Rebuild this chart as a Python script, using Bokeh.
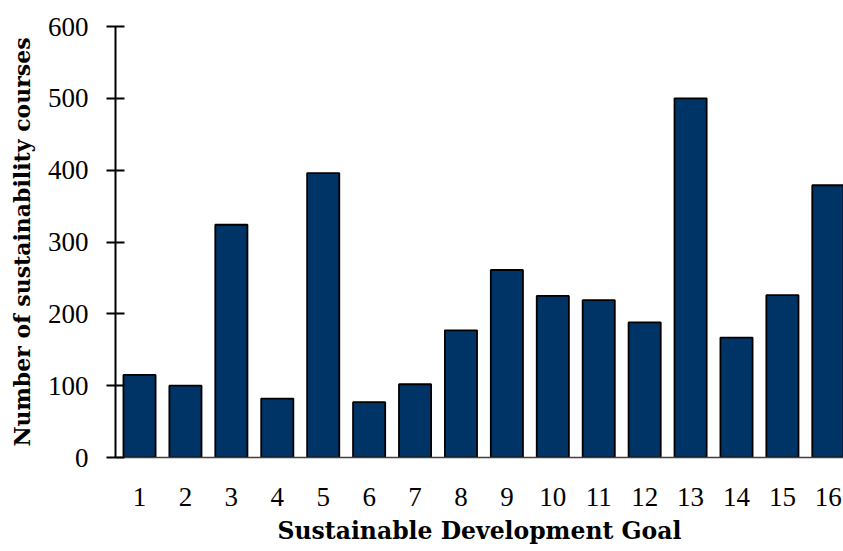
from bokeh.plotting import figure
from bokeh.models import Range1d, FixedTicker
from bokeh.embed import file_html
from bokeh.resources import INLINE

goals = [1, 2, 3, 4, 5, 6, 7, 8, 9, 10, 11, 12, 13, 14, 15, 16]
courses = [115, 100, 324, 82, 396, 77, 102, 177, 261, 225, 219, 188, 500, 167, 226, 379]
y_ticks = [0, 100, 200, 300, 400, 500, 600]

TICK_FONT = "Liberation Serif"
LABEL_FONT = "DejaVu Serif"

p = figure(width=843, height=551, output_backend="svg", toolbar_location=None,
           x_range=Range1d(0.477, 16.33), y_range=Range1d(0, 600),
           min_border_left=115, min_border_right=0, min_border_top=26, min_border_bottom=94)
p.outline_line_color = None
p.grid.grid_line_color = None
p.background_fill_color = "white"

p.vbar(x=goals, top=courses, width=0.7, fill_color="#003366",
       line_color="black", line_width=1.8)

# y axis
p.yaxis.ticker = FixedTicker(ticks=y_ticks)
p.yaxis.major_tick_in = 9
p.yaxis.major_tick_out = 9
p.yaxis.minor_tick_line_color = None
p.yaxis.axis_line_width = 2
p.yaxis.major_tick_line_width = 2
p.yaxis.axis_line_color = "black"
p.yaxis.major_label_standoff = 18
p.yaxis.major_label_text_font = TICK_FONT
p.yaxis.major_label_text_font_size = "27px"
p.yaxis.major_label_text_color = "black"
p.yaxis.axis_label = "Number of sustainability courses"
p.yaxis.axis_label_text_font = LABEL_FONT
p.yaxis.axis_label_text_font_style = "bold"
p.yaxis.axis_label_text_font_size = "22px"
p.yaxis.axis_label_standoff = 10
p.yaxis.axis_label_text_color = "black"

# x axis
p.xaxis.ticker = FixedTicker(ticks=goals)
p.xaxis.major_tick_line_color = None
p.xaxis.minor_tick_line_color = None
p.xaxis.axis_line_color = "#404040"
p.xaxis.axis_line_width = 1.5
p.xaxis.major_label_standoff = 24
p.xaxis.major_label_text_font = TICK_FONT
p.xaxis.major_label_text_font_size = "27px"
p.xaxis.major_label_text_color = "black"
p.xaxis.axis_label = "Sustainable Development Goal"
p.xaxis.axis_label_text_font = LABEL_FONT
p.xaxis.axis_label_text_font_style = "bold"
p.xaxis.axis_label_text_font_size = "23.5px"
p.xaxis.axis_label_standoff = 8
p.xaxis.axis_label_text_color = "black"

open("out.html", "w").write(file_html(p, INLINE))
